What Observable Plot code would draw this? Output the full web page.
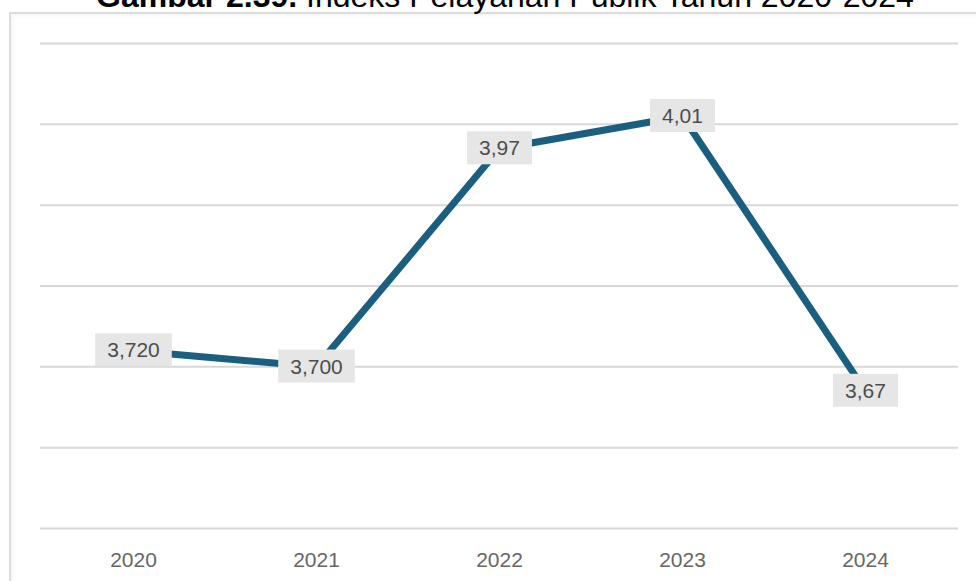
<!DOCTYPE html>
<html>
<head>
<meta charset="utf-8">
<script src="https://cdn.jsdelivr.net/npm/d3@7"></script>
<script src="https://cdn.jsdelivr.net/npm/@observablehq/plot@0.6"></script>
<style>
  body { margin: 0; background: #fff; font-family: "Liberation Sans", Arial, sans-serif; }
  #wrap { position: relative; width: 976px; height: 581px; overflow: hidden; background: #fff; }
  #title { position: absolute; left: 0; top: -20px; width: 1010px; text-align: center; font-size: 32px; line-height: 32px; color: #000; white-space: nowrap; }
  #frame { position: absolute; left: 9px; top: 12px; width: 1000px; height: 700px; border: 2px solid #dcdcdc; box-shadow: inset 2px 2px 4px rgba(0,0,0,0.04); }
  #chart { position: absolute; left: 0; top: 0; }
</style>
</head>
<body>
<div id="wrap">
  <div id="frame"></div>
  <div id="title"><b>Gambar 2.39.</b> Indeks Pelayanan Publik Tahun 2020-2024</div>
  <div id="chart"></div>
</div>
<script>
const years = ["2020", "2021", "2022", "2023", "2024"];
const values = [3.72, 3.70, 3.97, 4.01, 3.67];
const valueLabels = ["3,720", "3,700", "3,97", "4,01", "3,67"];
const yGrid = [3.5, 3.6, 3.7, 3.8, 3.9, 4.0, 4.1];

const data = years.map((year, i) => ({ year, value: values[i], label: valueLabels[i] }));

const chart = Plot.plot({
  width: 976,
  height: 581,
  marginLeft: 40,
  marginRight: 18,
  marginTop: 43,
  marginBottom: 53,
  style: { background: "transparent", fontFamily: "'Liberation Sans', Arial, sans-serif" },
  x: { type: "point", domain: years, padding: 0.5, label: null },
  y: { domain: [3.5, 4.1], axis: null, label: null },
  marks: [
    Plot.ruleY(yGrid, { stroke: "#d8d8d8", strokeWidth: 2 }),
    Plot.axisX({ tickSize: 0, tickPadding: 24, fontSize: 21, fill: "#666", label: null }),
    Plot.lineY(data, { x: "year", y: "value", stroke: "#1b5f80", strokeWidth: 7 }),
    Plot.text(data, { x: "year", y: "value", text: "label", fontSize: 21, fill: "#4d4d4d" })
  ]
});

document.getElementById("chart").appendChild(chart);

// Grey boxes behind the value labels, sized from the rendered text
const labelSet = new Set(valueLabels);
chart.querySelectorAll("text").forEach(t => {
  if (!labelSet.has(t.textContent.trim())) return;
  const b = t.getBBox();
  const r = document.createElementNS("http://www.w3.org/2000/svg", "rect");
  r.setAttribute("x", b.x - 12);
  r.setAttribute("y", b.y - 5);
  r.setAttribute("width", b.width + 24);
  r.setAttribute("height", b.height + 10);
  r.setAttribute("fill", "#e6e6e6");
  const tr = t.getAttribute("transform");
  if (tr) r.setAttribute("transform", tr);
  t.parentNode.insertBefore(r, t);
});
</script>
</body>
</html>
